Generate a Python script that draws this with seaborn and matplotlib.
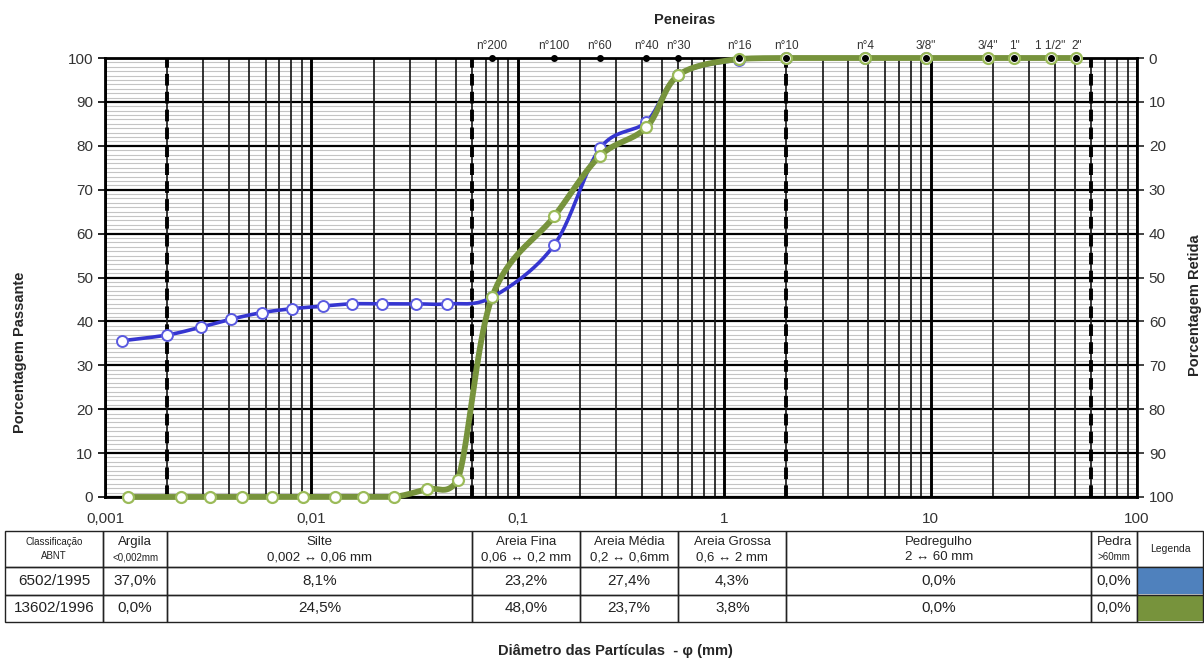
import numpy as np
import pandas as pd
import matplotlib
matplotlib.use("Agg")
import matplotlib.pyplot as plt
from matplotlib.ticker import FixedLocator, LogLocator, MultipleLocator, NullFormatter, FuncFormatter
from matplotlib.patches import Rectangle
import seaborn as sns

# ---- grain size distribution (diameter in mm, percent passing) ----
d_6502 = [0.00121, 0.0020, 0.00292, 0.00408, 0.00574, 0.00809, 0.01143, 0.01567,
          0.0221, 0.0321, 0.0455, 0.075, 0.15, 0.25, 0.42, 0.60, 1.18, 2.0, 4.8, 9.5]
p_6502 = [35.6, 36.9, 38.7, 40.5, 42.0, 42.9, 43.5, 44.0,
          44.0, 44.0, 44.0, 45.5, 57.4, 79.4, 85.5, 96.1, 99.6, 100.0, 100.0, 100.0]

d_13602 = [0.00129, 0.00233, 0.00323, 0.00461, 0.00645, 0.0091, 0.0130, 0.0178,
           0.0251, 0.0362, 0.0512, 0.075, 0.15, 0.25, 0.42, 0.60, 1.18, 2.0,
           4.8, 9.5, 19.0, 25.4, 38.1, 50.8]
p_13602 = [0.0, 0.0, 0.0, 0.0, 0.0, 0.0, 0.0, 0.0,
           0.0, 1.8, 3.9, 45.5, 63.9, 77.7, 84.2, 96.1, 99.8, 100.0,
           100.0, 100.0, 100.0, 100.0, 100.0, 100.0]

# ---- sieves ----
sieve_names = ["n°200", "n°100", "n°60", "n°40", "n°30", "n°16", "n°10",
               "n°4", "3/8\"", "3/4\"", "1\"", "1 1/2\"", "2\""]
sieve_mm = [0.075, 0.15, 0.25, 0.42, 0.60, 1.18, 2.0, 4.8, 9.5, 19.0, 25.4, 38.1, 50.8]

# ---- ABNT classification ----
class_limits = [0.002, 0.06, 2.0, 60.0]
fraction_edges = [0.001, 0.002, 0.06, 0.2, 0.6, 2.0, 60.0, 100.0]
fraction_names = ["Argila", "Silte", "Areia Fina", "Areia Média", "Areia Grossa", "Pedregulho", "Pedra"]
fraction_ranges = ["<0,002mm", "0,002 ↔ 0,06 mm", "0,06 ↔ 0,2 mm", "0,2 ↔ 0,6mm",
                   "0,6 ↔ 2 mm", "2 ↔ 60 mm", ">60mm"]
norms = ["6502/1995", "13602/1996"]
frac_6502 = [37.0, 8.1, 23.2, 27.4, 4.3, 0.0, 0.0]
frac_13602 = [0.0, 24.5, 48.0, 23.7, 3.8, 0.0, 0.0]

x_ticks = [0.001, 0.01, 0.1, 1, 10, 100]
y_ticks = list(range(0, 101, 10))

BLUE_LINE = "#3535d0"
BLUE_MARK = "#5a5ae0"
GREEN_LINE = "#77933c"
GREEN_MARK = "#9bbb59"
BLUE_PATCH = "#4f81bd"
GREEN_PATCH = "#77933c"

sns.set_style("white")
plt.rcParams["font.family"] = ["Liberation Sans", "DejaVu Sans"]
plt.rcParams["axes.unicode_minus"] = False

W, H = 1204, 659
fig = plt.figure(figsize=(W / 100, H / 100), dpi=100)
ax = fig.add_axes([105 / W, 1 - 497 / H, (1137 - 105) / W, (497 - 58) / H])
ax.set_xscale("log")
ax.set_xlim(0.001, 100)
ax.set_ylim(0, 100)


def comma(v):
    return f"{v:g}".replace(".", ",")


# ticks and grid
ax.xaxis.set_major_locator(FixedLocator(x_ticks))
ax.xaxis.set_major_formatter(FuncFormatter(lambda v, p: comma(v)))
ax.xaxis.set_minor_locator(LogLocator(base=10, subs=np.arange(2, 10)))
ax.xaxis.set_minor_formatter(NullFormatter())
ax.yaxis.set_major_locator(FixedLocator(y_ticks))
ax.yaxis.set_minor_locator(MultipleLocator(1))
ax.tick_params(axis="both", which="major", labelsize=11, labelcolor="#333333",
               length=5, width=1.2, color="black", direction="out")
ax.tick_params(axis="x", which="minor", length=3, width=0.8, color="#333333")
ax.tick_params(axis="y", which="minor", length=0)
ax.tick_params(axis="x", which="major", pad=6)

ax.grid(which="minor", axis="y", color="#c4c4c4", lw=0.8)
ax.grid(which="minor", axis="x", color="#1a1a1a", lw=1.25)
ax.grid(which="major", axis="y", color="black", lw=1.6)
ax.grid(which="major", axis="x", color="black", lw=2.1)
ax.set_axisbelow(True)
# vertical grid drawn over the light horizontal rules
ax.yaxis.set_zorder(0.4)
ax.xaxis.set_zorder(0.6)
for s in ax.spines.values():
    s.set_color("black")
    s.set_linewidth(2)

for lim in class_limits:
    ax.axvline(lim, color="black", lw=2.8, ls=(0, (3.0, 1.6)), zorder=2)

# right axis: percent retained
ax2 = ax.twinx()
ax2.set_ylim(100, 0)
ax2.yaxis.set_major_locator(FixedLocator(y_ticks))
ax2.tick_params(axis="y", labelsize=11, labelcolor="#333333", length=5, width=1.2)
for s in ax2.spines.values():
    s.set_visible(False)
ax.set_zorder(ax2.get_zorder() + 1)
ax.patch.set_visible(False)


def smooth(xs, ys, n=40):
    """Bezier smoothing of a polyline in display space, kept within 0-100 %."""
    pts = ax.transData.transform(np.column_stack([xs, ys]))
    y_lo = ax.transData.transform((1, 0))[1]
    y_hi = ax.transData.transform((1, 100))[1]
    P = np.vstack([pts[0], pts, pts[-1]])
    t = np.linspace(0, 1, n)[:, None]
    segs = []
    for i in range(1, len(P) - 2):
        p0, p1, p2, p3 = P[i - 1], P[i], P[i + 1], P[i + 2]
        c1 = p1 + (p2 - p0) / 6
        c2 = p2 - (p3 - p1) / 6
        c1[1] = np.clip(c1[1], y_lo, y_hi)
        c2[1] = np.clip(c2[1], y_lo, y_hi)
        segs.append((1 - t) ** 3 * p1 + 3 * (1 - t) ** 2 * t * c1
                    + 3 * (1 - t) * t ** 2 * c2 + t ** 3 * p2)
    return ax.transData.inverted().transform(np.vstack(segs))


df_a = pd.DataFrame({"d": d_6502, "p": p_6502})
df_b = pd.DataFrame({"d": d_13602, "p": p_13602})

ca = smooth(df_a["d"].values, df_a["p"].values)
cb = smooth(df_b["d"].values, df_b["p"].values)
ax.plot(ca[:, 0], ca[:, 1], color=BLUE_LINE, lw=2.6, zorder=4, clip_on=False,
        solid_capstyle="round")
sns.scatterplot(data=df_a, x="d", y="p", ax=ax, marker="o", s=62, color="white",
                edgecolor=BLUE_MARK, linewidth=1.4, zorder=5, clip_on=False)
ax.plot(cb[:, 0], cb[:, 1], color=GREEN_LINE, lw=4.2, zorder=6, clip_on=False,
        solid_capstyle="round")
sns.scatterplot(data=df_b, x="d", y="p", ax=ax, marker="o", s=62, color="white",
                edgecolor=GREEN_MARK, linewidth=1.6, zorder=7, clip_on=False)

# sieve markers along the top edge
ax.scatter(sieve_mm, [100] * len(sieve_mm), s=16, color="black", zorder=8, clip_on=False)
for name, mm in zip(sieve_names, sieve_mm):
    ax.annotate(name, (mm, 100), xytext=(0, 4), textcoords="offset points",
                ha="center", va="bottom", fontsize=8.5, color="#333333")

ax.set_xlabel("")
ax.set_ylabel("")

fig.text(685 / W, 1 - 20 / H, "Peneiras", ha="center", va="center",
         fontsize=10.5, fontweight="bold")
fig.text(20 / W, 1 - 352 / H, "Porcentagem Passante", ha="center", va="center",
         rotation=90, fontsize=10.5, fontweight="bold")
fig.text(1195 / W, 1 - 305 / H, "Porcentagem Retida", ha="center", va="center",
         rotation=90, fontsize=10.5, fontweight="bold")
fig.text(615 / W, 1 - 651 / H, "Diâmetro das Partículas  - φ (mm)", ha="center",
         va="center", fontsize=10.5, fontweight="bold")

# ---- classification table ----
tax = fig.add_axes([0, 0, 1, 1])
tax.set_xlim(0, W)
tax.set_ylim(H, 0)
tax.axis("off")
tax.patch.set_visible(False)

col_px = [float(ax.transData.transform((d, 50))[0]) for d in fraction_edges]
col_px[0] -= 2
edges = [5] + col_px + [W - 1]
row_y = [531, 567, 595, 622]


def cell(x0, x1, y0, y1):
    tax.add_patch(Rectangle((x0, y0), x1 - x0, y1 - y0, fill=False,
                            edgecolor="#222222", lw=1.0))


# header row
cell(edges[0], edges[1], row_y[0], row_y[1])
tax.text((edges[0] + edges[1]) / 2, (row_y[0] + row_y[1]) / 2, "Classificação\nABNT",
         ha="center", va="center", fontsize=7, linespacing=1.4, color="#222222")
for i, (nm, rg) in enumerate(zip(fraction_names, fraction_ranges)):
    x0, x1 = edges[i + 1], edges[i + 2]
    xc = (x0 + x1) / 2
    cell(x0, x1, row_y[0], row_y[1])
    small = nm in ("Argila", "Pedra")
    tax.text(xc, row_y[0] + 11, nm, ha="center", va="center", fontsize=9.5, color="#222222")
    tax.text(xc, row_y[0] + 26, rg, ha="center", va="center",
             fontsize=7 if small else 9.5, color="#222222")
cell(edges[-2], edges[-1], row_y[0], row_y[1])
tax.text((edges[-2] + edges[-1]) / 2, (row_y[0] + row_y[1]) / 2, "Legenda",
         ha="center", va="center", fontsize=7.5, color="#222222")

# value rows
for r, (norm, vals, colr) in enumerate(zip(norms, [frac_6502, frac_13602],
                                           [BLUE_PATCH, GREEN_PATCH])):
    y0, y1 = row_y[r + 1], row_y[r + 2]
    yc = (y0 + y1) / 2
    cell(edges[0], edges[1], y0, y1)
    tax.text((edges[0] + edges[1]) / 2, yc, norm, ha="center", va="center",
             fontsize=11, color="#222222")
    for i, v in enumerate(vals):
        x0, x1 = edges[i + 1], edges[i + 2]
        cell(x0, x1, y0, y1)
        tax.text((x0 + x1) / 2, yc, f"{v:.1f}%".replace(".", ","), ha="center",
                 va="center", fontsize=11, color="#222222")
    tax.add_patch(Rectangle((edges[-2] + 1, y0 + 1), edges[-1] - edges[-2] - 1,
                            y1 - y0 - 2, facecolor=colr, edgecolor="none"))
    cell(edges[-2], edges[-1], y0, y1)

fig.savefig("out.png", dpi=100)
